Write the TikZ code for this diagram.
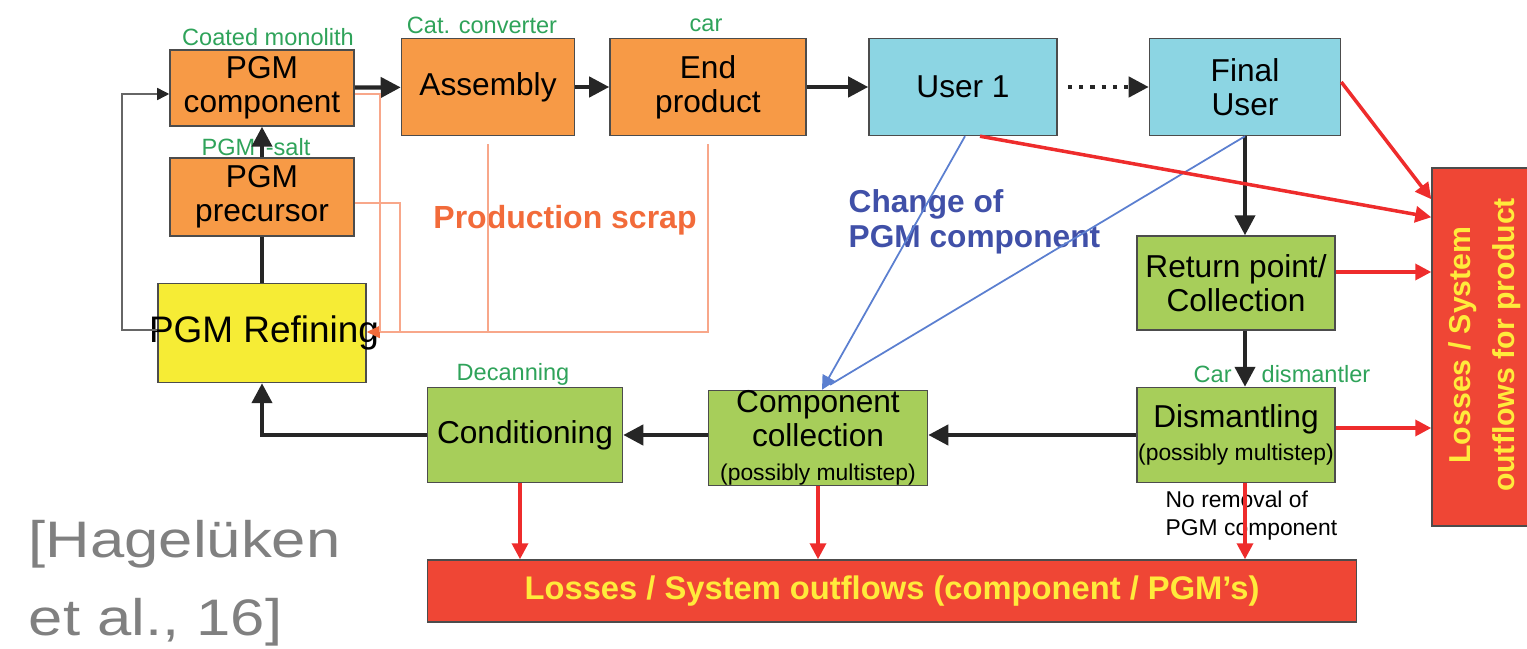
\documentclass[tikz,border=0pt]{standalone}
\usepackage{fontspec}
\setmainfont{Liberation Sans}
\usepackage{tikz}
\usetikzlibrary{arrows.meta}
\usetikzlibrary{calc}

\definecolor{prodorange}{HTML}{F79A46}
\definecolor{usercyan}{HTML}{8CD5E3}
\definecolor{recgreen}{HTML}{A7CE5A}
\definecolor{refyellow}{HTML}{F6EC35}
\definecolor{lossred}{HTML}{EF4635}
\definecolor{lossyellow}{HTML}{FFEB3B}
\definecolor{lossarrow}{HTML}{EE2C2C}
\definecolor{stagegreen}{HTML}{2FA35A}
\definecolor{scrapline}{HTML}{F8A78A}
\definecolor{scraptext}{HTML}{F26B3A}
\definecolor{changeline}{HTML}{5B7FD0}
\definecolor{changetext}{HTML}{4050A8}
\definecolor{citegray}{HTML}{808080}

\begin{document}
\begin{tikzpicture}[x=0.01cm,y=-0.01cm,
    box/.style={draw=black!70,thin,align=center,inner sep=0pt,font=\fontsize{9}{9.6}\selectfont},
    prodbox/.style={box,fill=prodorange},
    userbox/.style={box,fill=usercyan},
    recbox/.style={box,fill=recgreen},
    refbox/.style={box,fill=refyellow},
    lossbox/.style={box,fill=lossred},
    losstext/.style={text=lossyellow,font=\bfseries\fontsize{9.3}{12.5}\selectfont,align=center,inner sep=0pt},
    stage/.style={text=stagegreen,font=\fontsize{6.7}{8}\selectfont,inner sep=0pt},
    minor/.style={font=\fontsize{6.5}{8}\selectfont},
    flow/.style={line width=1.2pt,draw=black!85,-{Triangle[length=0.2cm,width=0.2cm]}},
    plainflow/.style={line width=1.2pt,draw=black!85},
    backflow/.style={thin,draw=black!60,-{Triangle[length=0.12cm,width=0.12cm,color=black!85]}},
    scrap/.style={draw=scrapline,line width=0.5pt},
    scraparr/.style={scrap,-{Triangle[length=0.13cm,width=0.12cm,color=scraptext]}},
    loss/.style={line width=1pt,draw=lossarrow,-{Triangle[length=0.16cm,width=0.16cm]}},
    change/.style={draw=changeline,line width=0.5pt},
    cite/.style={text=citegray,font=\fontsize{14.6}{22}\selectfont,align=left,inner sep=0pt,xscale=1.2,transform shape}]
    \useasboundingbox (0,0) rectangle (1527,649);
    % production chain
    \node[prodbox,minimum width=1.84cm,minimum height=0.76cm] (comp) at (262,88) {PGM\\component};
    \node[prodbox,minimum width=1.73cm,minimum height=0.97cm] (asm) at (488,87) {Assembly};
    \node[prodbox,minimum width=1.96cm,minimum height=0.97cm] (endp) at (708,87) {End\\product};
    \node[userbox,minimum width=1.88cm,minimum height=0.97cm] (user1) at (963,87) {User 1};
    \node[userbox,minimum width=1.91cm,minimum height=0.97cm] (final) at (1245,87) {Final\\User};
    \node[prodbox,minimum width=1.84cm,minimum height=0.78cm] (prec) at (262,197) {PGM\\precursor};
    \node[refbox,minimum width=2.08cm,minimum height=0.99cm] (refin) at (262,333) {};
    \node[font=\fontsize{10.5}{12}\selectfont,inner sep=0pt] (refintxt) at (264,333) {PGM Refining};
    % recycling chain
    \node[recbox,minimum width=1.98cm,minimum height=0.94cm] (ret) at (1236,283) {Return point/\\Collection};
    \node[recbox,minimum width=1.98cm,minimum height=0.95cm] (dism) at (1236,435) {Dismantling\\{\fontsize{6.5}{8}\selectfont(possibly multistep)}};
    \node[recbox,minimum width=2.19cm,minimum height=0.95cm] (ccol) at (818,438) {Component\\collection\\{\fontsize{6.5}{8}\selectfont(possibly multistep)}};
    \node[recbox,minimum width=1.95cm,minimum height=0.95cm] (cond) at (525,435) {Conditioning};
    % losses
    \node[lossbox,minimum width=9.29cm,minimum height=0.62cm] (lossb) at (892,591) {};
    \node[losstext] (lossbtxt) at (lossb.center) {Losses / System outflows (component / PGM’s)};
    \node[lossbox,minimum width=1.06cm,minimum height=3.58cm] (lossr) at (1485,347) {};
    \node[losstext,rotate=90,font=\bfseries\fontsize{8.6}{12.5}\selectfont] (lossrtxt) at (1485,345) {Losses / System\\outflows for product};
    % stage labels
    \node[stage] (l1) at (268,37) {Coated monolith};
    \node[stage] (l2) at (482,25) {Cat. converter};
    \node[stage] (l3) at (706,25) {car};
    \node[stage] (l4) at (256,147) {PGM \,-salt};
    \node[stage] (l5) at (513,374) {Decanning};
    \node[stage] (l6) at (1282,374) {Car\hspace{0.3cm}dismantler};
    \node[minor,align=left,inner sep=0pt,anchor=west] (l7) at (1165,516) {No removal of\\PGM component};
    \node[text=scraptext,font=\bfseries\fontsize{9.1}{11}\selectfont,inner sep=0pt] (scrap) at (565,220) {Production scrap};
    \node[text=changetext,font=\bfseries\fontsize{9}{10}\selectfont,align=left,inner sep=0pt,anchor=west] (chg) at (848,222) {Change of\\PGM component};
    \node[cite,anchor=base west] (ref) at (28,635) {[Hagelüken\\et al., 16]};
    % main flows
    \draw[flow] (comp) -- (asm);
    \draw[flow] (asm) -- (endp);
    \draw[flow] (endp) -- (user1);
    \draw[flow,dotted] ([xshift=0.1cm]user1.east) -- (final.west);
    \draw[flow] (prec) -- (comp);
    \draw[plainflow] (refin) -- (prec);
    \draw[flow] (final.south) -- (final.south |- ret.north);
    \draw[flow] (final.south |- ret.south) -- (final.south |- dism.north);
    \draw[flow] (dism) -- (dism -| ccol.east);
    \draw[flow] (ccol.west |- cond) -- (cond);
    \draw[flow] (cond.west) -| (refin.south);
    \coordinate (back) at (122,330);
    \draw[backflow] (refin.west |- back) -- (back) |- ([yshift=-0.06cm]comp.west);
    % production scrap
    \coordinate (sp) at (400,332);
    \coordinate (sq) at (380,332);
    \draw[scraparr] ([yshift=-0.08cm]endp.south) |- (refin.east |- sp);
    \draw[scrap] ([yshift=-0.08cm]asm.south) -- (asm.south |- sp);
    \draw[scrap] ([yshift=-0.06cm]prec.east) -| (sp);
    \draw[scrap] ([yshift=-0.06cm]comp.east) -| (sq);
    % change of component
    \draw[change,-{Triangle[length=0.14cm,width=0.14cm]}] ([xshift=0.02cm]user1.south) -- ([xshift=0.04cm]ccol.north);
    \draw[change] (final.south) -- ([xshift=0.12cm,yshift=0.05cm]ccol.north);
    % losses
    \draw[loss] ([yshift=0.05cm]final.east) -- ([yshift=-0.32cm]lossr.north west);
    \draw[loss] ([xshift=0.17cm]user1.south) -- ([yshift=-0.5cm]lossr.north west);
    \draw[loss] ([yshift=0.11cm]ret.east) -- ([yshift=0.11cm]ret.east -| lossr.west);
    \draw[loss] ([yshift=0.07cm]dism.east) -- ([yshift=0.07cm]dism.east -| lossr.west);
    \draw[loss] ([xshift=-0.05cm]cond.south) -- ([xshift=-0.05cm]cond.south |- lossb.north);
    \draw[loss] (ccol.south) -- (ccol.south |- lossb.north);
    \draw[loss] (final.south |- dism.south) -- (final.south |- lossb.north);
\end{tikzpicture}
\end{document}
